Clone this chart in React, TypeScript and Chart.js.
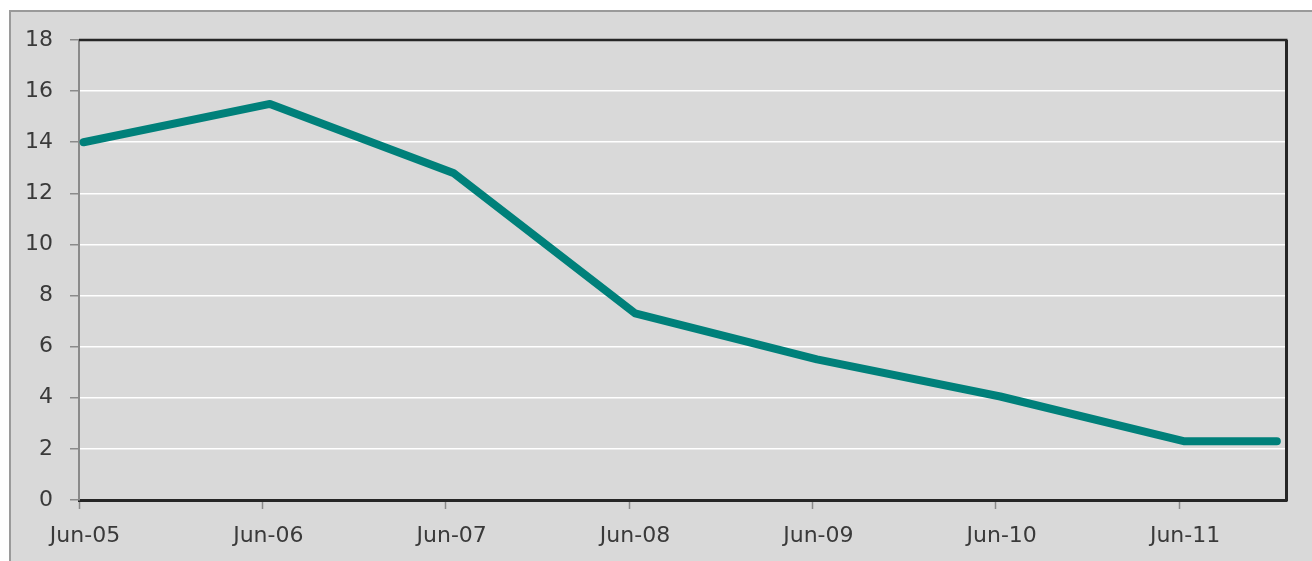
import React, { useEffect, useRef } from "react";
import { Chart, registerables } from "chart.js";

Chart.register(...registerables);

// Months since Jun-05 for each observation
const monthsX = [0.3, 12.5, 24.5, 36.4, 48.3, 60.3, 72.3, 78.4];
const rateValues = [14.0, 15.5, 12.8, 7.3, 5.5, 4.05, 2.3, 2.3];
const xTickLabels = ["Jun-05", "Jun-06", "Jun-07", "Jun-08", "Jun-09", "Jun-10", "Jun-11"];
const xTickMonths = [0, 12, 24, 36, 48, 60, 72];
const xMax = 79;
const yMin = 0;
const yMax = 18;
const yStep = 2;

const frame = {
  id: "frame",
  beforeDraw(chart: any) {
    const ctx = chart.ctx;
    const w = chart.width;
    const h = chart.height;
    ctx.save();
    ctx.fillStyle = "#ffffff";
    ctx.fillRect(0, 0, w, h);
    ctx.fillStyle = "#D9D9D9";
    ctx.fillRect(9, 10, w - 9, h - 10);
    ctx.strokeStyle = "#9a9a9a";
    ctx.lineWidth = 2;
    ctx.beginPath();
    ctx.moveTo(9, 11);
    ctx.lineTo(w, 11);
    ctx.moveTo(10, 10);
    ctx.lineTo(10, h);
    ctx.stroke();
    ctx.restore();
  },
  afterDraw(chart: any) {
    const ctx = chart.ctx;
    const a = chart.chartArea;
    ctx.save();
    ctx.strokeStyle = "#262626";
    ctx.lineWidth = 2.5;
    ctx.beginPath();
    ctx.moveTo(a.left, a.top);
    ctx.lineTo(a.right + 1.5, a.top);
    ctx.stroke();
    ctx.lineWidth = 3;
    ctx.beginPath();
    ctx.moveTo(a.right + 0.5, a.top);
    ctx.lineTo(a.right + 0.5, a.bottom + 1.5);
    ctx.stroke();
    ctx.restore();
  },
};

export default function App() {
  const ref = useRef<HTMLCanvasElement>(null);
  useEffect(() => {
    if (!ref.current) return;
    const tickFont = { family: "'DejaVu Sans', sans-serif", size: 22 };
    const chart = new Chart(ref.current, {
      type: "line",
      data: {
        datasets: [
          {
            data: monthsX.map((x, i) => ({ x, y: rateValues[i] })),
            borderColor: "#00807A",
            borderWidth: 8,
            borderCapStyle: "round",
            borderJoinStyle: "round",
            pointRadius: 0,
            fill: false,
            tension: 0,
          },
        ],
      },
      options: {
        animation: false,
        responsive: false,
        maintainAspectRatio: false,
        layout: { padding: { top: 40, right: 26, left: 0, bottom: 0 } },
        plugins: { legend: { display: false }, tooltip: { enabled: false } },
        scales: {
          x: {
            type: "linear",
            min: 0,
            max: xMax,
            afterFit(scale: any) {
              scale.height = 61;
            },
            afterBuildTicks(scale: any) {
              scale.ticks = xTickMonths.map((v) => ({ value: v }));
            },
            ticks: {
              autoSkip: false,
              maxRotation: 0,
              labelOffset: 6,
              padding: 14,
              color: "#3a3a3a",
              font: tickFont,
              callback: (v: any) => {
                const i = xTickMonths.indexOf(Number(v));
                return i >= 0 ? xTickLabels[i] : "";
              },
            },
            grid: {
              drawOnChartArea: false,
              drawTicks: true,
              tickLength: 9,
              tickColor: "#8a8a8a",
              tickWidth: 1.5,
            },
            border: { display: true, color: "#262626", width: 3 },
          },
          y: {
            min: yMin,
            max: yMax,
            afterFit(scale: any) {
              scale.width = 79;
            },
            ticks: {
              stepSize: yStep,
              padding: 17,
              color: "#3a3a3a",
              font: tickFont,
            },
            grid: {
              color: "#ffffff",
              lineWidth: 1.5,
              drawTicks: true,
              tickLength: 9,
              tickColor: "#8a8a8a",
              tickWidth: 1.5,
            },
            border: { display: true, color: "#8a8a8a", width: 2 },
          },
        },
      },
      plugins: [frame],
    });
    return () => chart.destroy();
  }, []);
  return (
    <div style={{ position: "absolute", left: 0, top: 0, width: 1312, height: 561 }}>
      <canvas ref={ref} width={1312} height={561} />
    </div>
  );
}
